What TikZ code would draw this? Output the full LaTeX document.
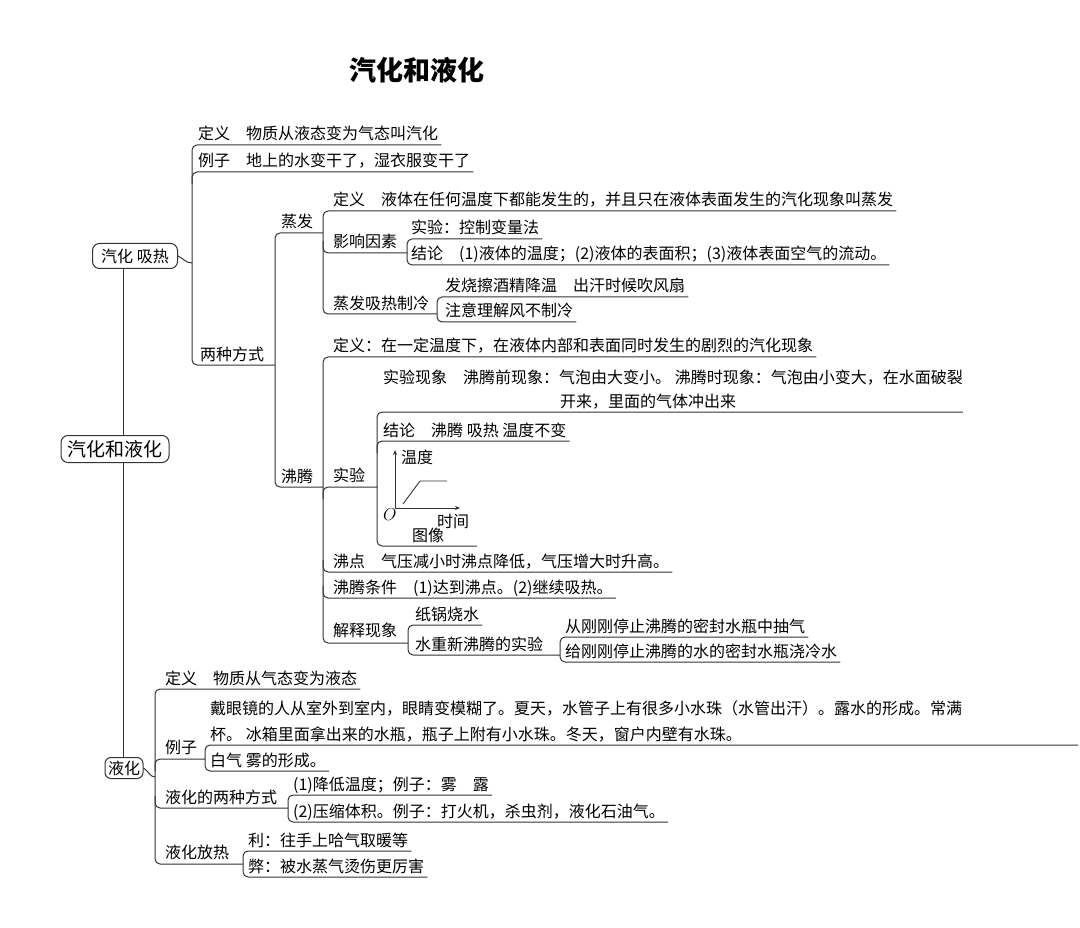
\documentclass[tikz,border=0pt]{standalone}
\usepackage{fontspec}
\setmainfont{Noto Sans CJK SC}
\usetikzlibrary{calc,arrows.meta}

\begin{document}
\begin{tikzpicture}[x=1pt,y=-1pt,
  txt/.style={anchor=base west,inner sep=0pt,font=\fontsize{16}{19}\selectfont},
  box/.style={draw=black!80,line width=1pt,rounded corners=7pt,inner xsep=6pt,inner ysep=3pt,font=\fontsize{16}{19}\selectfont},
  br/.style={draw=black!80,line width=1pt,rounded corners=5pt}]
\useasboundingbox (0,0) rectangle (1080,928);

\node[font=\bfseries\fontsize{27}{30}\selectfont] (title) at (417,70) {汽化和液化};
\node[box,font=\fontsize{19}{22}\selectfont,minimum width=108,minimum height=27] (root) at (115,449) {汽化和液化};
\node[box,minimum width=85,minimum height=25] (qh) at (135,256) {汽化 吸热};
\node[box,inner xsep=3pt,inner ysep=1pt,minimum height=21,rounded corners=6pt] (yh) at (124,768) {液化};

\coordinate (trk) at (123,0);
\draw[br] (qh.south -| trk) -- (root.north -| trk);
\draw[br] (root.south -| trk) -- (yh.north -| trk);

% 汽化
\node[txt] (a1) at (198,140) {定义　物质从液态变为气态叫汽化};
\node[txt] (a2) at (198,167) {例子　地上的水变干了，湿衣服变干了};
\node[txt] (a3) at (200,360) {两种方式};
\draw[br] (qh.east) .. controls +(6,3) and +(-6,0) .. (192,263);
\draw[br] ($(a1.base east)+(3,5)$) -| (192,365) -- (275,365);
\draw[br] (192,184) |- ($(a2.base east)+(3,5)$);

% 两种方式
\node[txt] (b1) at (281,228) {蒸发};
\node[txt] (b2) at (281,482) {沸腾};
\draw[br] (323,233) -| (275,487) -- (323,487);

% 蒸发
\node[txt] (c1) at (333,206) {定义　液体在任何温度下都能发生的，并且只在液体表面发生的汽化现象叫蒸发};
\node[txt] (c2) at (333,248) {影响因素};
\node[txt] (c3) at (333,309) {蒸发吸热制冷};
\draw[br] ($(c1.base east)+(3,5)$) -| (323,314) -- (437,314);
\draw[br] (323,241) |- (407,253);

\node[txt] (d1) at (411,234) {实验：控制变量法};
\node[txt] (d2) at (411,260) {结论　(1)液体的温度；(2)液体的表面积；(3)液体表面空气的流动。};
\draw[br] ($(d1.base east)+(3,5)$) -| (407,265) -- ($(d2.base east)+(3,5)$);

\node[txt] (e1) at (445,292) {发烧擦酒精降温　出汗时候吹风扇};
\node[txt] (e2) at (445,317) {注意理解风不制冷};
\draw[br] ($(e1.base east)+(3,5)$) -| (437,322) -- ($(e2.base east)+(3,5)$);

% 沸腾
\node[txt] (f1) at (333,352) {定义：在一定温度下，在液体内部和表面同时发生的剧烈的汽化现象};
\node[txt] (f2) at (333,481) {实验};
\node[txt] (f3) at (333,567) {沸点　气压减小时沸点降低，气压增大时升高。};
\node[txt] (f4) at (333,593) {沸腾条件　(1)达到沸点。(2)继续吸热。};
\node[txt] (f5) at (333,636) {解释现象};
\draw[br] ($(f1.base east)+(3,5)$) -| (323,643) -- (408,643);
\draw[br] (323,499) |- (377,487);
\draw[br] (323,560) |- ($(f3.base east)+(3,5)$);
\draw[br] (323,586) |- ($(f4.base east)+(3,5)$);

\node[txt] (g1) at (383,384) {实验现象　沸腾前现象：气泡由大变小。 沸腾时现象：气泡由小变大，在水面破裂};
\node[txt] (g1b) at (560,407) {开来，里面的气体冲出来};
\node[txt] (g2) at (383,436) {结论　沸腾 吸热 温度不变};
\draw[br] ($(g1.base east)+(0,28)$) -| (377,546) -- (477,546);
\draw[br] (377,453) |- ($(g2.base east)+(3,5)$);

% 图像
\coordinate (org) at (395,508);
\draw[black!80,line width=0.9pt,-{Stealth[length=5pt,width=4pt]}] (org) -- (395,450);
\draw[black!80,line width=0.9pt,-{Stealth[length=5pt,width=4pt]}] (org) -- (460,508);
\draw[black!80,line width=0.9pt] (403,504) -- (420,481) -- (447,481);
\node[txt] (wd) at (401,463) {温度};
\node[txt] (sj) at (437,527) {时间};
\node[txt] (o) at (383,520) {$O$};
\node[txt] (tx) at (412,541) {图像};

\node[txt] (h1) at (415,620) {纸锅烧水};
\node[txt] (h2) at (415,650) {水重新沸腾的实验};
\draw[br] ($(h1.base east)+(3,5)$) -| (408,655) -- (560,655);

\node[txt] (i1) at (565,632) {从刚刚停止沸腾的密封水瓶中抽气};
\node[txt] (i2) at (565,657) {给刚刚停止沸腾的水的密封水瓶浇冷水};
\draw[br] ($(i1.base east)+(3,5)$) -| (560,662) -- ($(i2.base east)+(3,5)$);

% 液化
\node[txt] (j1) at (165,684) {定义　物质从气态变为液态};
\node[txt] (j2) at (165,753) {例子};
\node[txt] (j3) at (165,803) {液化的两种方式};
\node[txt] (j4) at (165,858) {液化放热};
\draw[br] (yh.east) .. controls +(5,3) and +(-5,0) .. (155,777);
\draw[br] ($(j1.base east)+(3,5)$) -| (155,864) -- (243,864);
\draw[br] (155,771) |- (205,759);
\draw[br] (155,796) |- (288,808);

\node[txt] (k1) at (210,714) {戴眼镜的人从室外到室内，眼睛变模糊了。夏天，水管子上有很多小水珠（水管出汗）。露水的形成。常满};
\node[txt] (k1b) at (210,740) {杯。 冰箱里面拿出来的水瓶，瓶子上附有小水珠。冬天，窗户内壁有水珠。};
\node[txt] (k2) at (210,766) {白气 雾的形成。};
\draw[br] (1078,745) -| (205,771) -- ($(k2.base east)+(3,5)$);

\node[txt] (l1) at (293,790) {(1)降低温度；例子：雾　露};
\node[txt] (l2) at (293,817) {(2)压缩体积。例子：打火机，杀虫剂，液化石油气。};
\draw[br] ($(l1.base east)+(3,5)$) -| (288,822) -- ($(l2.base east)+(3,5)$);

\node[txt] (m1) at (248,846) {利：往手上哈气取暖等};
\node[txt] (m2) at (248,872) {弊：被水蒸气烫伤更厉害};
\draw[br] ($(m1.base east)+(3,5)$) -| (243,877) -- ($(m2.base east)+(3,5)$);
\end{tikzpicture}
\end{document}
